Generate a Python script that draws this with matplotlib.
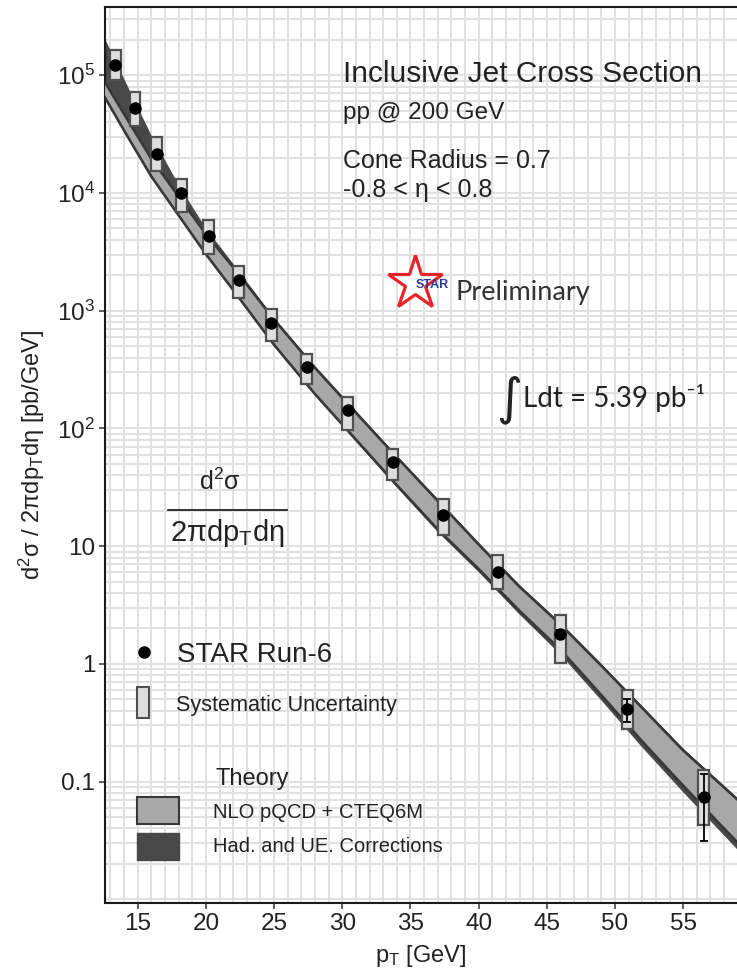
import matplotlib
matplotlib.use("Agg")
import matplotlib.pyplot as plt
from matplotlib.ticker import MultipleLocator, FixedLocator, FuncFormatter, LogLocator, NullFormatter
from matplotlib.patches import Rectangle
from matplotlib.lines import Line2D

plt.rcParams['font.family'] = ['Liberation Sans', 'DejaVu Sans']
plt.rcParams['mathtext.fontset'] = 'custom'
plt.rcParams['mathtext.rm'] = 'Liberation Sans'
plt.rcParams['mathtext.it'] = 'Liberation Sans:italic'
plt.rcParams['mathtext.bf'] = 'Liberation Sans:bold'

# STAR Run-6 inclusive jet cross section (pb/GeV)
jet_pt = [13.35, 14.8, 16.4, 18.2, 20.2, 22.4, 24.8, 27.4, 30.4, 33.7, 37.4, 41.4, 46.0, 50.9, 56.5]
xsec = [1.22e5, 5.3e4, 2.13e4, 9.9e3, 4.35e3, 1.81e3, 787, 333, 143, 52, 18.3, 6.0, 1.8, 0.41, 0.0735]
stat_err = [1.2e3, 5.0e2, 2.0e2, 90, 40, 17, 7, 3, 1.5, 0.6, 0.3, 0.12, 0.15, 0.088, 0.042]
sys_hi = [1.65e5, 7.2e4, 2.99e4, 1.32e4, 5.86e3, 2.38e3, 1.04e3, 432, 185, 67.3, 24.9, 8.34, 2.58, 0.596, 0.126]
sys_lo = [9.1e4, 3.69e4, 1.54e4, 6.9e3, 3.05e3, 1.27e3, 553, 240, 97.8, 36.2, 12.4, 4.35, 1.02, 0.278, 0.0425]

# Theory bands: NLO pQCD + CTEQ6M, and with hadronisation / UE corrections
theory_pt = [12.6, 14, 16, 18, 20, 22, 25, 28, 31, 34, 37, 40, 43, 46, 49, 52, 55, 59]
corr_hi = [2.04e5, 9.33e4, 3.09e4, 1.175e4, 5.01e3, 2.51e3, 871, 339, 141, 58.9, 25.1, 10.7, 4.68, 2.24, 1.0, 0.437, 0.191, 0.0724]
nlo_hi = [8.71e4, 4.68e4, 1.95e4, 9.33e3, 4.47e3, 2.34e3, 841, 327, 136, 56.9, 24.3, 10.35, 4.52, 2.16, 0.966, 0.422, 0.184, 0.070]
nlo_lo = [6.46e4, 3.39e4, 1.38e4, 6.46e3, 3.02e3, 1.50e3, 513, 196, 80.4, 33.0, 13.9, 6.40, 2.82, 1.32, 0.543, 0.219, 0.0923, 0.0302]
corr_lo = [6.46e4, 3.39e4, 1.38e4, 6.46e3, 3.02e3, 1.48e3, 501, 191, 77.6, 31.6, 13.2, 6.03, 2.63, 1.20, 0.49, 0.195, 0.0813, 0.0263]

x_ticks = [15, 20, 25, 30, 35, 40, 45, 50, 55]
y_ticks = [0.1, 1, 10, 100, 1e3, 1e4, 1e5]
y_tick_labels = ['0.1', '1', '10', r'$\mathregular{10^2}$', r'$\mathregular{10^3}$',
                 r'$\mathregular{10^4}$', r'$\mathregular{10^5}$']

W, H = 737, 975
fig = plt.figure(figsize=(W / 100, H / 100), dpi=100)
ax = fig.add_axes([105 / W, 1 - 903 / H, (W - 105) / W, (903 - 7) / H])


def fx(px):
    return px / W


def fy(py):
    return 1 - py / H


TXT = '#222222'
LIGHT = '#a8a8a8'
DARK = '#484848'
EDGE = '#383838'
BOX = '#dedede'
BOXEDGE = '#505050'

ax.set_yscale('log')
ax.set_xlim(12.6, 58.95)
ax.set_ylim(0.0093, 3.8e5)

# grid
ax.xaxis.set_major_locator(FixedLocator(x_ticks))
ax.xaxis.set_minor_locator(MultipleLocator(1))
ax.yaxis.set_major_locator(FixedLocator(y_ticks))
ax.yaxis.set_major_formatter(FuncFormatter(lambda v, p: y_tick_labels[y_ticks.index(v)] if v in y_ticks else ''))
ax.yaxis.set_minor_locator(LogLocator(base=10, subs=range(1, 10), numticks=100))
ax.yaxis.set_minor_formatter(NullFormatter())
ax.grid(which='both', color='#e1e1e1', lw=1.4, zorder=0)
ax.set_axisbelow(True)
ax.tick_params(which='minor', length=0)
ax.tick_params(which='major', direction='out', length=4, width=1.1, color='#333333',
               labelsize=17.5, labelcolor=TXT, pad=3)
for side in ('left', 'bottom', 'top'):
    ax.spines[side].set_linewidth(1.5)
    ax.spines[side].set_color('#1a1a1a')
ax.spines['right'].set_visible(False)

# theory bands
ax.fill_between(theory_pt, corr_lo, corr_hi, facecolor=DARK, edgecolor='none', zorder=2)
ax.fill_between(theory_pt, nlo_lo, nlo_hi, facecolor=LIGHT, edgecolor='none', zorder=3)
ax.plot(theory_pt, nlo_hi, color=EDGE, lw=1.9, zorder=3.5)
ax.plot(theory_pt, nlo_lo, color=EDGE, lw=1.9, zorder=3.5)

# systematic uncertainty boxes
heights = [h - l for h, l in zip(sys_hi, sys_lo)]
ax.bar(jet_pt, heights, bottom=sys_lo, width=0.8, color=BOX, edgecolor=BOXEDGE,
       linewidth=1.6, zorder=4)

# data points with statistical errors
ax.errorbar(jet_pt, xsec, yerr=stat_err, fmt='o', color='black', ms=8,
            elinewidth=1.3, capsize=3, capthick=1.3, zorder=5)

# axis labels
ax.set_xlabel(r'p$_\mathregular{T}$ [GeV]', fontsize=17, color=TXT, labelpad=6)
ax.set_ylabel(r'd$^\mathregular{2}$σ / 2πdp$_\mathregular{T}$dη [pb/GeV]', fontsize=17,
              color=TXT, labelpad=7)

# header text
fig.text(fx(343), fy(82), 'Inclusive Jet Cross Section', fontsize=21.5, color=TXT, va='baseline')
fig.text(fx(343), fy(119), 'pp @ 200 GeV', fontsize=17.5, color=TXT, va='baseline')
fig.text(fx(343), fy(168), 'Cone Radius = 0.7', fontsize=18, color=TXT, va='baseline')
fig.text(fx(343), fy(197), '-0.8 < η < 0.8', fontsize=18, color=TXT, va='baseline')

# STAR preliminary mark
star = Line2D([fx(415)], [fy(283)], marker='*', ms=41, mfc='white', mec='#e8242a', mew=2.3,
              transform=fig.transFigure)
fig.add_artist(star)
fig.text(fx(432), fy(285), 'STAR', fontsize=9, color='#2b3a96', fontweight='bold',
         ha='center', va='center')
fig.text(fx(455), fy(300), 'Preliminary', fontsize=19.5, color='#333333', va='baseline',
         family=['Lato', 'DejaVu Sans'])

# luminosity
fig.text(fx(509), fy(400), '∫', fontsize=36, color=TXT, ha='center', va='center',
         family=['DejaVu Sans'])
fig.text(fx(523), fy(407), 'Ldt = 5.39 pb⁻¹', fontsize=20, color=TXT, va='baseline',
         family=['Lato', 'DejaVu Sans'])

# cross-section definition
fig.text(fx(220), fy(490), r'd$^\mathregular{2}$σ', fontsize=18, color=TXT, ha='center', va='baseline')
fig.add_artist(Line2D([fx(168), fx(287)], [fy(510), fy(510)], color=TXT, lw=1.3,
                      transform=fig.transFigure))
fig.text(fx(227), fy(541), r'2πdp$_\mathregular{T}$dη', fontsize=21, color=TXT, ha='center', va='baseline')

# legend
fig.add_artist(Line2D([fx(144)], [fy(651.5)], marker='o', ms=8, color='black',
                      transform=fig.transFigure))
fig.text(fx(177), fy(662), 'STAR Run-6', fontsize=20, color=TXT, va='baseline')
fig.add_artist(Rectangle((fx(137), fy(718)), fx(149) - fx(137), fy(687) - fy(718),
                         facecolor=BOX, edgecolor=BOXEDGE, lw=1.5, transform=fig.transFigure))
fig.text(fx(176), fy(711), 'Systematic Uncertainty', fontsize=15.6, color=TXT, va='baseline')
fig.text(fx(215), fy(785), 'Theory', fontsize=17, color=TXT, va='baseline')
fig.add_artist(Rectangle((fx(137), fy(824)), fx(179) - fx(137), fy(797) - fy(824),
                         facecolor=LIGHT, edgecolor=EDGE, lw=1.5, transform=fig.transFigure))
fig.text(fx(213), fy(818), 'NLO pQCD + CTEQ6M', fontsize=14.5, color=TXT, va='baseline')
fig.add_artist(Rectangle((fx(137), fy(860)), fx(179) - fx(137), fy(833) - fy(860),
                         facecolor=DARK, edgecolor=DARK, lw=1.0, transform=fig.transFigure))
fig.text(fx(213), fy(852), 'Had. and UE. Corrections', fontsize=14.5, color=TXT, va='baseline')

fig.savefig('out.png', dpi=100)
